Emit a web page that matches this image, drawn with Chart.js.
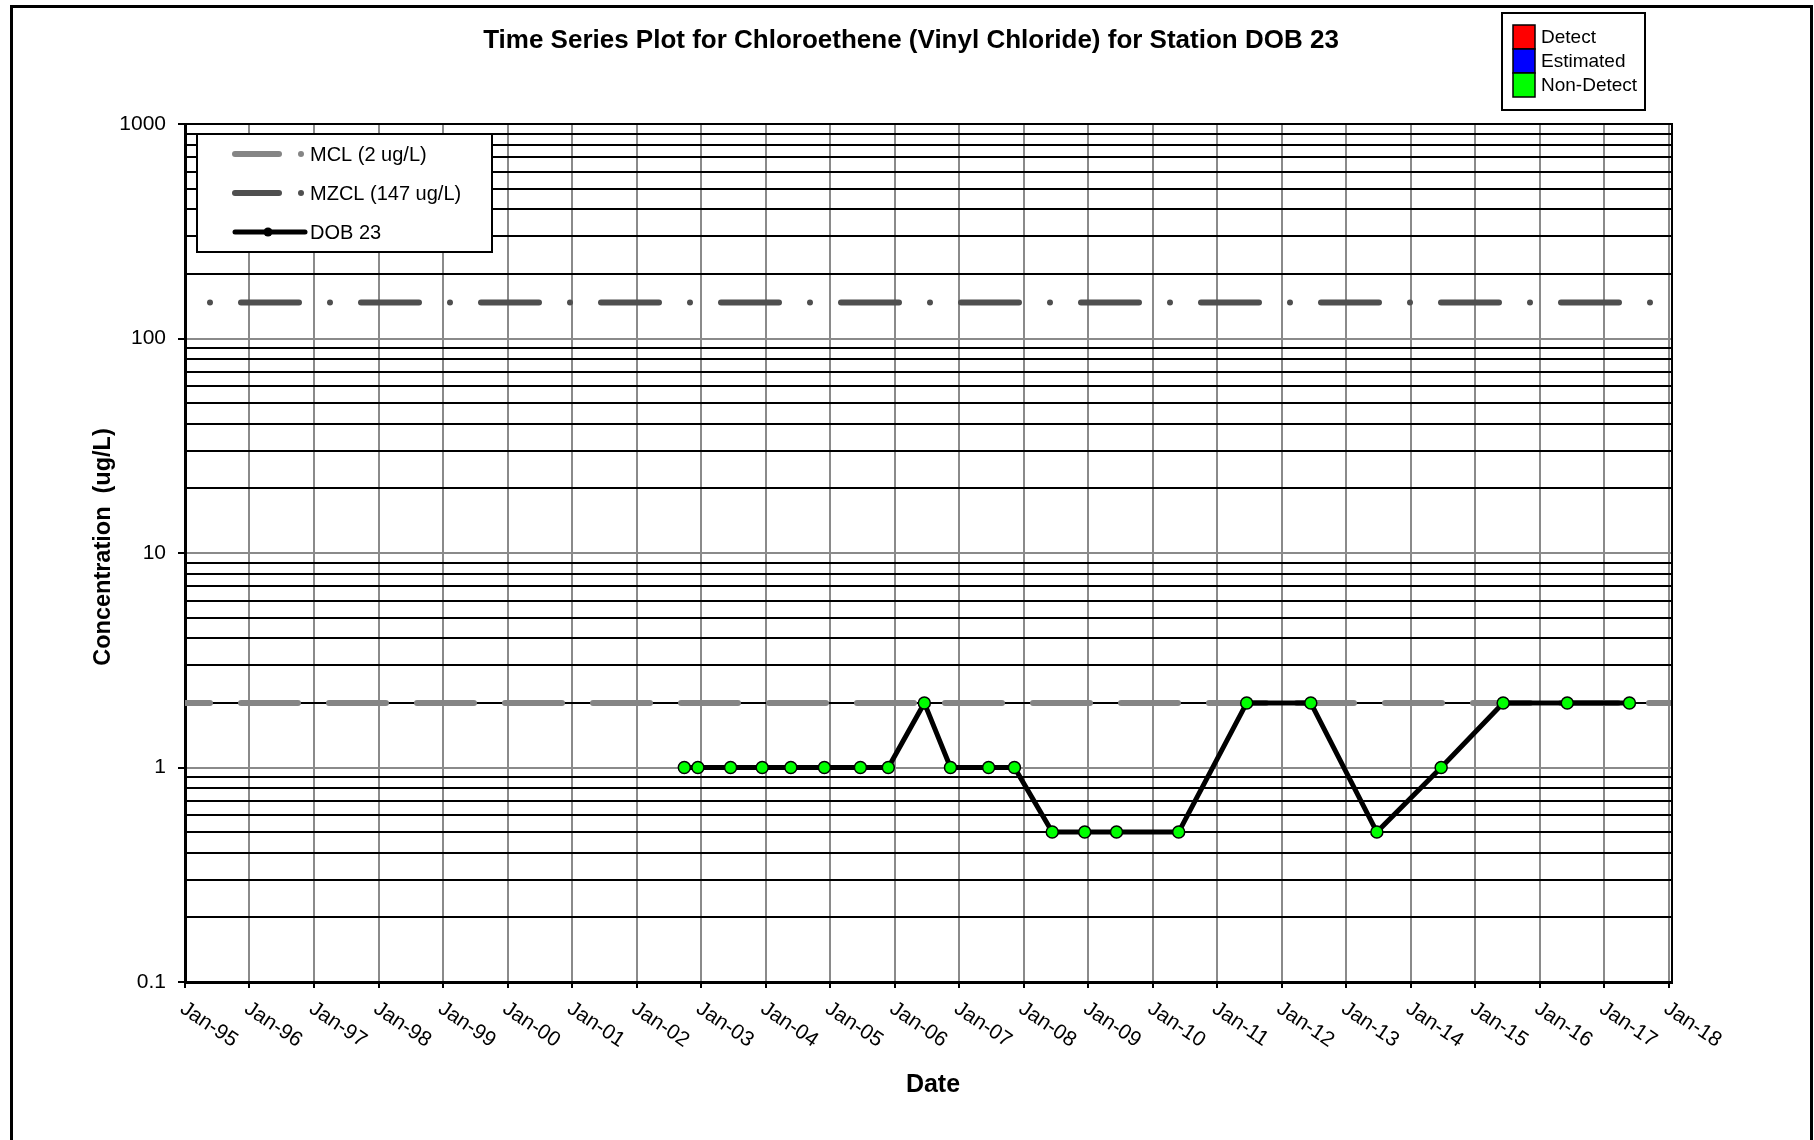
<!DOCTYPE html>
<html>
<head>
<meta charset="utf-8">
<script src="https://cdn.jsdelivr.net/npm/chart.js@4.4.1/dist/chart.umd.min.js"></script>
<style>
html,body{margin:0;padding:0;background:#fff;}
canvas{display:block;}
</style>
</head>
<body>
<canvas id="c" width="1814" height="1140"></canvas>
<script>
// ---------------- DATA ----------------
const chartTitle = 'Time Series Plot for Chloroethene (Vinyl Chloride) for Station DOB 23';
const xAxisTitle = 'Date';
const yAxisTitle = 'Concentration  (ug/L)';

const sampleDates = [
  '2002-09-28','2002-12-14','2003-06-17','2003-12-13','2004-05-23','2004-11-29',
  '2005-06-21','2005-11-26','2006-06-18','2006-11-13','2007-06-17','2007-11-10',
  '2008-06-11','2008-12-12','2009-06-10','2010-05-28','2011-06-17','2012-06-14',
  '2013-06-23','2014-06-22','2015-06-08','2016-06-05','2017-05-23'
];
const dob23Values = [
  1, 1, 1, 1, 1, 1,
  1, 1, 2, 1, 1, 1,
  0.5, 0.5, 0.5, 0.5, 2, 2,
  0.5, 1, 2, 2, 2
];
const mclValue = 2;
const mzclValue = 147;
const seriesNames = ['MCL (2 ug/L)', 'MZCL (147 ug/L)', 'DOB 23'];

const xAxisRange = ['1995-01-01', '2018-01-19'];
const xTickDates = [
  '1995-01-01','1996-01-01','1997-01-01','1998-01-01','1999-01-01','2000-01-01',
  '2001-01-01','2002-01-01','2003-01-01','2004-01-01','2005-01-01','2006-01-01',
  '2007-01-01','2008-01-01','2009-01-01','2010-01-01','2011-01-01','2012-01-01',
  '2013-01-01','2014-01-01','2015-01-01','2016-01-01','2017-01-01','2018-01-01'
];
const xTickLabels = [
  'Jan-95','Jan-96','Jan-97','Jan-98','Jan-99','Jan-00','Jan-01','Jan-02',
  'Jan-03','Jan-04','Jan-05','Jan-06','Jan-07','Jan-08','Jan-09','Jan-10',
  'Jan-11','Jan-12','Jan-13','Jan-14','Jan-15','Jan-16','Jan-17','Jan-18'
];
const yRange = [0.1, 1000];
const yTickValues = [0.1, 1, 10, 100, 1000];
const yTickLabels = ['0.1', '1', '10', '100', '1000'];

const statusLabels = ['Detect', 'Estimated', 'Non-Detect'];
const statusColors = ['#ff0000', '#0000ff', '#00ff00'];

// ---------------- HELPERS ----------------
const toMs = s => Date.parse(s + 'T00:00:00Z');
const xMin = toMs(xAxisRange[0]);
const xMax = toMs(xAxisRange[1]);
// gridline values: 1..9 x each decade
const yGridValues = [];
for (let i = 0; i < yTickValues.length - 1; i++) {
  for (let k = 1; k <= 9; k++) yGridValues.push(parseFloat((k * yTickValues[i]).toPrecision(3)));
}
yGridValues.push(yTickValues[yTickValues.length - 1]);
const decadeIndex = v => yTickValues.findIndex(t => Math.abs(t - v) / t < 1e-6);

const FONT = '"Liberation Sans", Arial, Helvetica, sans-serif';

const dobPoints = sampleDates.map((d, i) => ({x: toMs(d), y: dob23Values[i]}));
const mclPoints = [{x: xMin, y: mclValue}, {x: xMax, y: mclValue}];
const mzclPoints = [{x: xMin, y: mzclValue}, {x: xMax, y: mzclValue}];

const MCL_COLOR = '#858585';
const MZCL_COLOR = '#4f4f4f';

// ---------------- DECORATION PLUGIN ----------------
const decorations = {
  id: 'decorations',
  beforeDraw(chart) {
    const ctx = chart.ctx;
    ctx.save();
    ctx.fillStyle = '#fff';
    ctx.fillRect(0, 0, chart.width, chart.height);
    ctx.strokeStyle = '#000';
    ctx.lineWidth = 3;
    ctx.strokeRect(11.5, 6.5, 1800, 1300);
    ctx.restore();
  },
  afterDraw(chart) {
    const ctx = chart.ctx;
    const a = chart.chartArea;
    const xs = chart.scales.x;
    ctx.save();

    // plot area border (top/right)
    ctx.strokeStyle = '#000';
    ctx.lineWidth = 2;
    ctx.beginPath();
    ctx.moveTo(a.left, a.top);
    ctx.lineTo(a.right, a.top);
    ctx.lineTo(a.right, a.bottom);
    ctx.stroke();

    // rotated x tick labels
    ctx.fillStyle = '#000';
    ctx.font = '21px ' + FONT;
    ctx.textAlign = 'left';
    ctx.textBaseline = 'top';
    const ang = 34 * Math.PI / 180;
    xTickDates.forEach((d, i) => {
      const px = xs.getPixelForValue(toMs(d));
      ctx.save();
      ctx.translate(px + 3, a.bottom + 16);
      ctx.rotate(ang);
      ctx.fillText(xTickLabels[i], 0, 0);
      ctx.restore();
    });

    // titles
    ctx.textAlign = 'center';
    ctx.textBaseline = 'middle';
    ctx.font = 'bold 26px ' + FONT;
    ctx.fillText(chartTitle, 911, 41);
    ctx.font = 'bold 25px ' + FONT;
    ctx.fillText(xAxisTitle, 933, 1085);
    ctx.font = 'bold 23.5px ' + FONT;
    ctx.save();
    ctx.translate(104, 547);
    ctx.rotate(-Math.PI / 2);
    ctx.fillText(yAxisTitle, 0, 0);
    ctx.restore();

    // series legend (inside plot)
    ctx.fillStyle = '#fff';
    ctx.fillRect(197, 134, 295, 118);
    ctx.strokeStyle = '#000';
    ctx.lineWidth = 2;
    ctx.strokeRect(197, 134, 295, 118);
    const rows = [
      {y: 154, color: MCL_COLOR, w: 6, x2: 279, dotX: 301, dotR: 3},
      {y: 193, color: MZCL_COLOR, w: 6, x2: 279, dotX: 301, dotR: 3},
      {y: 232, color: '#000', w: 5, x2: 305, dotX: 268, dotR: 4.5}
    ];
    rows.forEach((r, i) => {
      ctx.strokeStyle = r.color;
      ctx.lineWidth = r.w;
      ctx.lineCap = 'round';
      ctx.beginPath();
      ctx.moveTo(235, r.y);
      ctx.lineTo(r.x2, r.y);
      ctx.stroke();
      ctx.fillStyle = r.color;
      ctx.beginPath();
      ctx.arc(r.dotX, r.y, r.dotR, 0, Math.PI * 2);
      ctx.fill();
      ctx.fillStyle = '#000';
      ctx.font = '20px ' + FONT;
      ctx.textAlign = 'left';
      ctx.textBaseline = 'middle';
      ctx.fillText(seriesNames[i], 310, r.y + 1);
    });

    // status legend (top right)
    ctx.fillStyle = '#fff';
    ctx.fillRect(1502, 13, 143, 97);
    ctx.strokeStyle = '#000';
    ctx.lineWidth = 2;
    ctx.strokeRect(1502, 13, 143, 97);
    statusLabels.forEach((lab, i) => {
      const top = 25 + i * 24;
      ctx.fillStyle = statusColors[i];
      ctx.fillRect(1513, top, 22, 24);
      ctx.strokeStyle = '#000';
      ctx.lineWidth = 1.5;
      ctx.strokeRect(1513, top, 22, 24);
      ctx.fillStyle = '#000';
      ctx.font = '19px ' + FONT;
      ctx.textAlign = 'left';
      ctx.textBaseline = 'middle';
      ctx.fillText(lab, 1541, top + 13);
    });
    ctx.restore();
  }
};

// ---------------- CHART ----------------
new Chart(document.getElementById('c'), {
  type: 'line',
  data: {
    datasets: [
      {
        label: seriesNames[2],
        data: dobPoints,
        order: 0,
        borderColor: '#000',
        borderWidth: 5,
        tension: 0,
        pointRadius: 6,
        pointBackgroundColor: '#00ff00',
        pointBorderColor: '#000',
        pointBorderWidth: 1.5
      },
      {
        label: seriesNames[0],
        data: mclPoints,
        order: 1,
        borderColor: MCL_COLOR,
        borderWidth: 6,
        borderDash: [57, 31],
        borderDashOffset: 32,
        borderCapStyle: 'round',
        pointRadius: 0
      },
      {
        label: seriesNames[1],
        data: mzclPoints,
        order: 2,
        borderColor: MZCL_COLOR,
        borderWidth: 6,
        borderDash: [58, 31, 0, 31],
        borderDashOffset: 64,
        borderCapStyle: 'round',
        pointRadius: 0
      }
    ]
  },
  options: {
    responsive: false,
    devicePixelRatio: 1,
    animation: false,
    events: [],
    layout: {padding: {left: 0, top: 124, right: 142, bottom: 0}},
    plugins: {legend: {display: false}, tooltip: {enabled: false}, title: {display: false}},
    scales: {
      x: {
        type: 'linear',
        min: xMin,
        max: xMax,
        afterBuildTicks: s => { s.ticks = xTickDates.map(d => ({value: toMs(d)})); },
        afterFit: s => { s.height = 158; },
        ticks: {display: false, autoSkip: false},
        grid: {color: '#8a8a8a', lineWidth: 2, tickLength: 6, tickColor: '#000', drawTicks: true},
        border: {color: '#000', width: 3}
      },
      y: {
        type: 'logarithmic',
        min: yRange[0],
        max: yRange[1],
        afterBuildTicks: s => { s.ticks = yGridValues.map(v => ({value: v})); },
        afterFit: s => { s.width = 185; },
        ticks: {
          autoSkip: false,
          padding: 12,
          color: '#000',
          font: {family: FONT, size: 21},
          callback: v => { const i = decadeIndex(v); return i >= 0 ? yTickLabels[i] : ''; }
        },
        grid: {
          color: c => decadeIndex(c.tick.value) >= 0 ? '#8a8a8a' : '#000',
          lineWidth: 2,
          tickLength: 7,
          tickColor: c => decadeIndex(c.tick.value) >= 0 ? '#000' : 'rgba(0,0,0,0)',
          drawTicks: true
        },
        border: {color: '#000', width: 3}
      }
    }
  },
  plugins: [decorations]
});
</script>
</body>
</html>
